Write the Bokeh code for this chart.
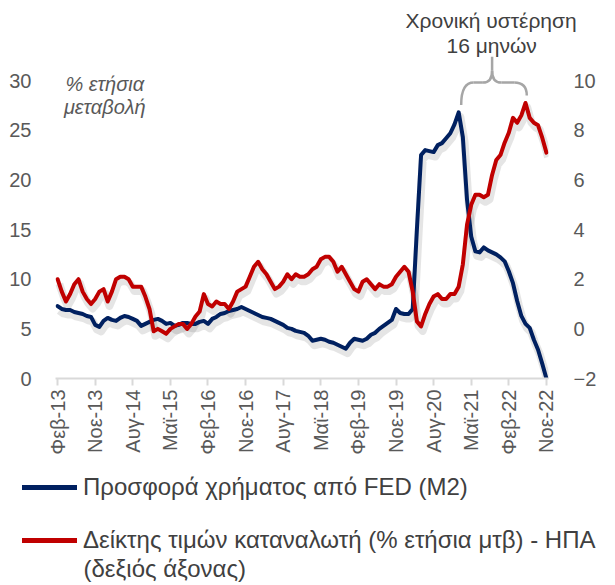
import numpy as np
from bokeh.plotting import figure
from bokeh.models import Range1d, LinearAxis, FixedTicker, Legend, LegendItem, Label, Title, ColumnDataSource
from bokeh.layouts import column
from bokeh.embed import file_html
from bokeh.resources import INLINE

# ---------------- data (monthly, Feb-2013 .. Nov-2022) ----------------
MONTH_NAMES = ["Ιαν", "Φεβ", "Μαρ", "Απρ", "Μαϊ", "Ιουν", "Ιουλ", "Αυγ", "Σεπ", "Οκτ", "Νοε", "Δεκ"]
START_YEAR, START_MONTH = 2013, 2

# M2 money supply, % y/y (left axis)
M2 = [
    7.3, 7.0, 6.9, 6.9, 6.7, 6.6, 6.5, 6.3, 6.2, 5.4, 5.2,            # 2013 Feb-Dec
    5.8, 6.1, 5.9, 5.8, 6.1, 6.3, 6.2, 6.0, 5.8, 5.3, 5.5, 5.7,       # 2014
    5.9, 6.0, 5.8, 5.5, 5.6, 5.3, 5.4, 5.6, 5.6, 5.5, 5.5, 5.7,       # 2015
    5.8, 5.5, 6.0, 6.2, 6.5, 6.6, 6.8, 6.9, 7.0, 7.2, 7.0, 6.8,       # 2016
    6.6, 6.4, 6.2, 6.1, 6.0, 5.8, 5.6, 5.4, 5.1, 5.0, 4.8, 4.7,       # 2017
    4.6, 4.3, 3.8, 3.9, 4.0, 3.9, 3.7, 3.6, 3.4, 3.2, 3.0, 3.6,       # 2018
    4.0, 3.9, 3.8, 4.0, 4.4, 4.6, 5.0, 5.3, 5.6, 5.9, 7.0, 6.6,       # 2019
    6.5, 6.5, 7.0, 15.0, 22.5, 23.0, 22.9, 22.8, 23.5, 23.7, 24.2, 24.7,  # 2020
    25.6, 26.8, 24.3, 18.0, 14.3, 12.8, 12.7, 13.2, 12.9, 12.7, 12.5, 12.2,  # 2021
    11.8, 10.8, 9.6, 7.8, 6.3, 5.5, 5.1, 3.9, 2.9, 1.5, 0.0,           # 2022 Jan-Nov
]

# US CPI, % y/y (right axis)
CPI = [
    2.0, 1.5, 1.1, 1.4, 1.8, 2.0, 1.5, 1.2, 1.0, 1.2, 1.5,            # 2013 Feb-Dec
    1.6, 1.1, 1.5, 2.0, 2.1, 2.1, 2.0, 1.7, 1.7, 1.7, 1.3, 0.8,       # 2014
    -0.1, 0.0, -0.1, -0.2, 0.0, 0.1, 0.2, 0.2, 0.0, 0.2, 0.5, 0.7,    # 2015
    1.4, 1.0, 0.9, 1.1, 1.0, 1.0, 0.8, 1.1, 1.5, 1.6, 1.7, 2.1,       # 2016
    2.5, 2.7, 2.4, 2.2, 1.9, 1.6, 1.7, 1.9, 2.2, 2.0, 2.2, 2.1,       # 2017
    2.1, 2.2, 2.4, 2.5, 2.8, 2.9, 2.9, 2.7, 2.3, 2.5, 2.2, 1.9,       # 2018
    1.6, 1.5, 1.9, 2.0, 1.8, 1.6, 1.8, 1.7, 1.7, 1.8, 2.1, 2.3,       # 2019
    2.5, 2.3, 1.5, 0.3, 0.1, 0.6, 1.0, 1.3, 1.4, 1.2, 1.2, 1.4,       # 2020
    1.4, 1.7, 2.6, 4.2, 5.0, 5.4, 5.4, 5.3, 5.4, 6.2, 6.8, 7.0,       # 2021
    7.5, 7.9, 8.5, 8.3, 8.6, 9.1, 8.5, 8.3, 8.2, 7.7, 7.1,            # 2022 Jan-Nov
]

TICK_STEP = 9
TICK_LABELS = ["Φεβ-13", "Νοε-13", "Αυγ-14", "Μαϊ-15", "Φεβ-16", "Νοε-16", "Αυγ-17",
               "Μαϊ-18", "Φεβ-19", "Νοε-19", "Αυγ-20", "Μαϊ-21", "Φεβ-22", "Νοε-22"]
LEFT_TICKS = [0, 5, 10, 15, 20, 25, 30]
RIGHT_TICKS = [-2, 0, 2, 4, 6, 8, 10]

SERIES_M2 = "Προσφορά χρήματος από FED (M2)"
SERIES_CPI = "Δείκτης τιμών καταναλωτή (% ετήσια μτβ) - ΗΠΑ"
SERIES_CPI_NOTE = "(δεξιός άξονας)"
AXIS_NOTE = ["% ετήσια", "μεταβολή"]
LAG_NOTE = ["Χρονική  υστέρηση", "16 μηνών"]

# ---------------- styling ----------------
BLUE = "#002060"
RED = "#C00000"
GREY_TXT = "#595959"
DARK_TXT = "#404040"
FONT = "Liberation Sans"

n = len(M2)
idx = np.arange(n)
month_labels = []
for k in range(n):
    m = (START_MONTH - 1 + k) % 12
    yr = START_YEAR + (START_MONTH - 1 + k) // 12
    month_labels.append(f"{MONTH_NAMES[m]}-{yr % 100:02d}")

TOTAL_H = 583
FRAME_TOP, FRAME_BOTTOM = 56, 378
MAIN_H = 460
PX_PER_UNIT = 9.93
L_MIN, L_MAX = LEFT_TICKS[0], LEFT_TICKS[-1]
R_MIN, R_MAX = RIGHT_TICKS[0], RIGHT_TICKS[-1]
Y_TOP = L_MIN + (FRAME_BOTTOM - FRAME_TOP) / PX_PER_UNIT
scale = (R_MAX - R_MIN) / (L_MAX - L_MIN)
R_TOP = R_MIN + (Y_TOP - L_MIN) * scale

src = ColumnDataSource(dict(x=idx, m2=M2, cpi=CPI, label=month_labels))

p = figure(width=599, height=MAIN_H, x_range=Range1d(-0.5, n - 0.5), y_range=Range1d(L_MIN, Y_TOP),
           output_backend="svg", toolbar_location=None,
           min_border_left=55, min_border_right=50, min_border_top=FRAME_TOP,
           min_border_bottom=MAIN_H - FRAME_BOTTOM)
p.frame_align = False
p.outline_line_color = None
p.grid.visible = False
p.extra_y_ranges = {"right": Range1d(R_MIN, R_TOP)}

# soft shadows under the lines
sh_l = 0.45
sh_r = sh_l * scale
p.line(idx + 0.4, np.array(M2) - sh_l, line_color="black", line_alpha=0.10, line_width=8, line_join="round")
p.line(idx + 0.4, np.array(CPI) - sh_r, line_color="black", line_alpha=0.10, line_width=8,
       line_join="round", y_range_name="right")

p.line("x", "m2", source=src, line_color=BLUE, line_width=4, line_join="round", line_cap="round")
p.line("x", "cpi", source=src, line_color=RED, line_width=4, line_join="round", line_cap="round",
       y_range_name="right")

# axes
ya = p.yaxis[0]
ya.ticker = FixedTicker(ticks=LEFT_TICKS)
ra = LinearAxis(y_range_name="right", ticker=FixedTicker(ticks=RIGHT_TICKS))
p.add_layout(ra, "right")
for ax, so in ((ya, 18), (ra, 19)):
    ax.axis_line_color = None
    ax.major_tick_line_color = None
    ax.minor_tick_line_color = None
    ax.major_label_standoff = so
    ax.major_label_text_font = FONT
    ax.major_label_text_font_size = "20px"
    ax.major_label_text_color = GREY_TXT

xa = p.xaxis[0]
tick_pos = list(range(0, n, TICK_STEP))
xa.ticker = FixedTicker(ticks=tick_pos)
xa.major_label_overrides = {t: lab for t, lab in zip(tick_pos, TICK_LABELS)}
xa.major_label_orientation = np.pi / 2
xa.axis_line_color = "#D9D9D9"
xa.axis_line_width = 2
xa.major_tick_line_color = "#D9D9D9"
xa.major_tick_line_width = 2
xa.major_tick_out = 7
xa.major_tick_in = 0
xa.minor_tick_line_color = None
xa.major_label_standoff = 4
xa.major_label_text_font = FONT
xa.major_label_text_font_size = "20px"
xa.major_label_text_color = GREY_TXT

# axis note
for txt, yv in zip(AXIS_NOTE, (29.7, 27.3)):
    p.add_layout(Label(x=11.3, y=yv, text=txt, text_align="center", text_baseline="middle",
                       text_font=FONT, text_font_size="20px", text_font_style="italic",
                       text_color=GREY_TXT))

# lag brace between the two peaks
i_m2 = int(np.argmax(M2))
i_cpi = int(np.argmax(CPI))
xl, xr = i_m2 + 0.6, i_cpi + 0.3
xm = (i_m2 + i_cpi) / 2
yl = M2[i_m2] + 0.75
yr_ = (CPI[i_cpi] - R_MIN) / scale + L_MIN + 0.75
ys = 29.8
yst = 31.0
ytip = Y_TOP
BR = dict(line_color="#A6A6A6", line_width=2.5)
p.quadratic(x0=[xl, xr], y0=[yl, yr_], x1=[xl + 3, xr - 3], y1=[ys, ys],
            cx=[xl, xr], cy=[ys, ys], **BR)
p.segment(x0=[xl + 3, xr - 3], y0=[ys, ys], x1=[xm - 2.2, xm + 2.2], y1=[ys, ys], **BR)
p.quadratic(x0=[xm - 2.2, xm + 2.2], y0=[ys, ys], x1=[xm, xm], y1=[yst, yst],
            cx=[xm, xm], cy=[ys, ys], **BR)
p.segment(x0=[xm], y0=[yst], x1=[xm], y1=[ytip], **BR)

# lag note as titles (outside the frame, so not clipped)
p.title.text = LAG_NOTE[0]
p.title.align = "left"
p.title.offset = 350
p.title.standoff = 0
p.title.text_font = FONT
p.title.text_font_size = "21px"
p.title.text_font_style = "normal"
p.title.text_color = DARK_TXT
t2 = Title(text=LAG_NOTE[1], align="left", offset=391, standoff=0, text_font=FONT,
           text_font_size="21px", text_font_style="normal", text_color=DARK_TXT)
p.add_layout(t2, "above")

# ---------------- legend panel ----------------
LEG_H = TOTAL_H - MAIN_H
p2 = figure(width=599, height=LEG_H, x_range=Range1d(n + 10, n + 11), y_range=Range1d(0, 1),
            output_backend="svg", toolbar_location=None,
            x_axis_location=None, y_axis_location=None,
            min_border_left=22, min_border_top=13, min_border_right=0, min_border_bottom=0)
p2.frame_align = False
p2.outline_line_color = None
p2.grid.visible = False
g1 = p2.line("x", "m2", source=src, line_color=BLUE, line_width=5, line_cap="round")
g2 = p2.line("x", "cpi", source=src, line_color=RED, line_width=5, line_cap="round")
legend = Legend(items=[LegendItem(label=SERIES_M2, renderers=[g1]),
                       LegendItem(label=SERIES_CPI, renderers=[g2])],
                location="top_left", margin=0, padding=0, spacing=25,
                glyph_width=55, glyph_height=24, label_height=24, label_standoff=6,
                label_text_font=FONT, label_text_font_size="24px", label_text_color=DARK_TXT,
                border_line_color=None, background_fill_alpha=0)
p2.add_layout(legend, "center")
p2.add_layout(Label(x=61, y=15, x_units="screen", y_units="screen", text=SERIES_CPI_NOTE,
                    text_align="left", text_baseline="middle", text_font=FONT,
                    text_font_size="24px", text_color=DARK_TXT))

layout = column(p, p2, spacing=0)
open("out.html", "w").write(file_html(layout, INLINE))
